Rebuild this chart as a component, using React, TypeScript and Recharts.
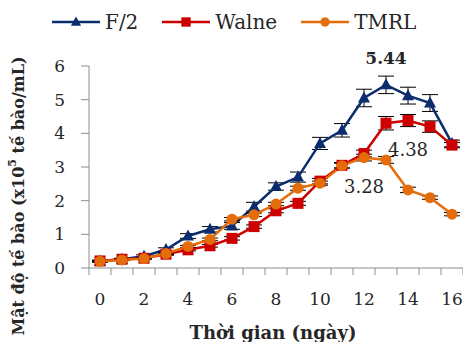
import React from "react"
import { LineChart, Line, XAxis, YAxis, ErrorBar, LabelList } from "recharts"

const days = [0, 1, 2, 3, 4, 5, 6, 7, 8, 9, 10, 11, 12, 13, 14, 15, 16]
const labeledDays = [0, 2, 4, 6, 8, 10, 12, 14, 16]
const yTicks = [0, 1, 2, 3, 4, 5, 6]

const f2 = [0.2, 0.26, 0.35, 0.55, 0.95, 1.15, 1.25, 1.82, 2.42, 2.7, 3.7, 4.09, 5.05, 5.44, 5.12, 4.9, 3.7]
const f2Err = [0.03, 0.03, 0.04, 0.05, 0.07, 0.08, 0.1, 0.13, 0.11, 0.15, 0.18, 0.2, 0.26, 0.26, 0.25, 0.25, 0.1]
const walne = [0.21, 0.26, 0.29, 0.41, 0.54, 0.66, 0.88, 1.23, 1.7, 1.92, 2.58, 3.05, 3.4, 4.3, 4.38, 4.2, 3.65]
const walneErr = [0.02, 0.02, 0.02, 0.03, 0.03, 0.04, 0.05, 0.05, 0.06, 0.06, 0.08, 0.08, 0.1, 0.2, 0.18, 0.17, 0.08]
const tmrl = [0.2, 0.24, 0.28, 0.43, 0.64, 0.85, 1.45, 1.58, 1.9, 2.37, 2.52, 3.04, 3.28, 3.21, 2.32, 2.09, 1.6]
const tmrlErr = [0.02, 0.02, 0.02, 0.03, 0.03, 0.04, 0.05, 0.05, 0.05, 0.06, 0.06, 0.07, 0.1, 0.1, 0.08, 0.05, 0.05]

const data = days.map((d, i) => ({
  day: d,
  f2: f2[i],
  f2Err: f2Err[i],
  walne: walne[i],
  walneErr: walneErr[i],
  tmrl: tmrl[i],
  tmrlErr: tmrlErr[i],
}))

// ticks sit between the days, labels under every second day
const xTicks = [...days.flatMap((d) => [d - 0.5, d]), days[days.length - 1] + 0.5]

const FONT = "'DejaVu Serif', serif"
const AXIS = "#8c8c8c"
const TEXT = "#262626"

const series = [
  { key: "f2", name: "F/2", color: "#0b2d6e", shape: "triangle", peak: 13, below: false, bold: true },
  { key: "walne", name: "Walne", color: "#cc0000", shape: "square", peak: 14, below: true, bold: false },
  { key: "tmrl", name: "TMRL", color: "#e46c0a", shape: "circle", peak: 12, below: true, bold: false },
]

function Marker({ cx, cy, shape, color, s = 1 }: any) {
  if (cx == null || cy == null) return null
  if (shape === "triangle") {
    const pts = `${cx},${cy - 6.5 * s} ${cx - 6 * s},${cy + 4.5 * s} ${cx + 6 * s},${cy + 4.5 * s}`
    return <polygon points={pts} fill={color} />
  }
  if (shape === "square") {
    return <rect x={cx - 5.5 * s} y={cy - 5.5 * s} width={11 * s} height={11 * s} fill={color} />
  }
  return <circle cx={cx} cy={cy} r={5.5 * s} fill={color} />
}

function XTick({ x, y, payload }: any) {
  const v = payload.value
  if (!Number.isInteger(v)) {
    return <line x1={x} x2={x} y1={y - 7} y2={y} stroke={AXIS} strokeWidth={1} />
  }
  if (!labeledDays.includes(v)) return null
  return (
    <text x={x} y={y + 30} textAnchor="middle" fontFamily={FONT} fontSize={17} fill={TEXT}>
      {v}
    </text>
  )
}

function Legend() {
  return (
    <div
      style={{
        position: "absolute",
        left: 52,
        top: 9,
        display: "flex",
        alignItems: "center",
        gap: 24,
        fontFamily: FONT,
        fontSize: 20,
        color: TEXT,
        lineHeight: "26px",
      }}
    >
      {series.map((s) => (
        <div key={s.key} style={{ display: "flex", alignItems: "center", gap: 5 }}>
          <svg width={48} height={14}>
            <line x1={0} x2={48} y1={7} y2={7} stroke={s.color} strokeWidth={2.5} />
            <Marker cx={24} cy={7} shape={s.shape} color={s.color} s={0.85} />
          </svg>
          <span>{s.name}</span>
        </div>
      ))}
    </div>
  )
}

export default function App() {
  return (
    <div style={{ position: "absolute", left: 0, top: 0, width: 463, height: 342, background: "#fff" }}>
      <LineChart width={463} height={342} data={data} margin={{ top: 66, right: 0, bottom: 0, left: 0 }}>
        <XAxis
          dataKey="day"
          type="number"
          domain={[-0.5, 16.5]}
          ticks={xTicks}
          interval={0}
          height={74}
          tickSize={7}
          tickMargin={0}
          tickLine={false}
          axisLine={{ stroke: AXIS }}
          tick={(p: any) => <XTick {...p} />}
          label={(p: any) => {
            const vb = p.viewBox
            return (
              <text
                x={vb.x + vb.width / 2 - 3}
                y={339}
                textAnchor="middle"
                fontFamily={FONT}
                fontWeight="bold"
                fontSize={18}
                fill={TEXT}
              >
                Thời gian (ngày)
              </text>
            )
          }}
        />
        <YAxis
          type="number"
          domain={[0, 6]}
          ticks={yTicks}
          interval={0}
          width={89}
          tickSize={8}
          tickMargin={16}
          axisLine={{ stroke: AXIS }}
          tickLine={{ stroke: AXIS }}
          tick={{ fontFamily: FONT, fontSize: 17, fill: TEXT }}
          label={() => {
            const cx = 18
            const cy = 196
            return (
              <text
                x={cx}
                y={cy}
                transform={`rotate(-90, ${cx}, ${cy})`}
                textAnchor="middle"
                dominantBaseline="central"
                fontFamily={FONT}
                fontWeight="bold"
                fontSize={16}
                fill={TEXT}
              >
                <tspan>Mật độ tế bào (x10</tspan>
                <tspan dy={-6} fontSize={11}>5</tspan>
                <tspan dy={6}> tế bào/mL)</tspan>
              </text>
            )
          }}
        />
        {series.map((s) => (
          <Line
            key={s.key}
            dataKey={s.key}
            name={s.name}
            stroke={s.color}
            strokeWidth={2.5}
            isAnimationActive={false}
            dot={(p: any) => <Marker key={`${s.key}-${p.index}`} cx={p.cx} cy={p.cy} shape={s.shape} color={s.color} />}
            activeDot={false}
          >
            <ErrorBar dataKey={`${s.key}Err`} direction="y" width={8} stroke="#000" strokeWidth={1} />
            <LabelList
              dataKey={s.key}
              content={(p: any) => {
                if (p.index !== s.peak) return null
                return (
                  <text
                    x={p.x}
                    y={s.below ? p.y + 35 : p.y - 21}
                    textAnchor="middle"
                    fontFamily={FONT}
                    fontWeight={s.bold ? "bold" : "normal"}
                    fontSize={s.bold ? 17 : 18}
                    fill={TEXT}
                  >
                    {Number(p.value).toFixed(2)}
                  </text>
                )
              }}
            />
          </Line>
        ))}
      </LineChart>
      <Legend />
    </div>
  )
}
